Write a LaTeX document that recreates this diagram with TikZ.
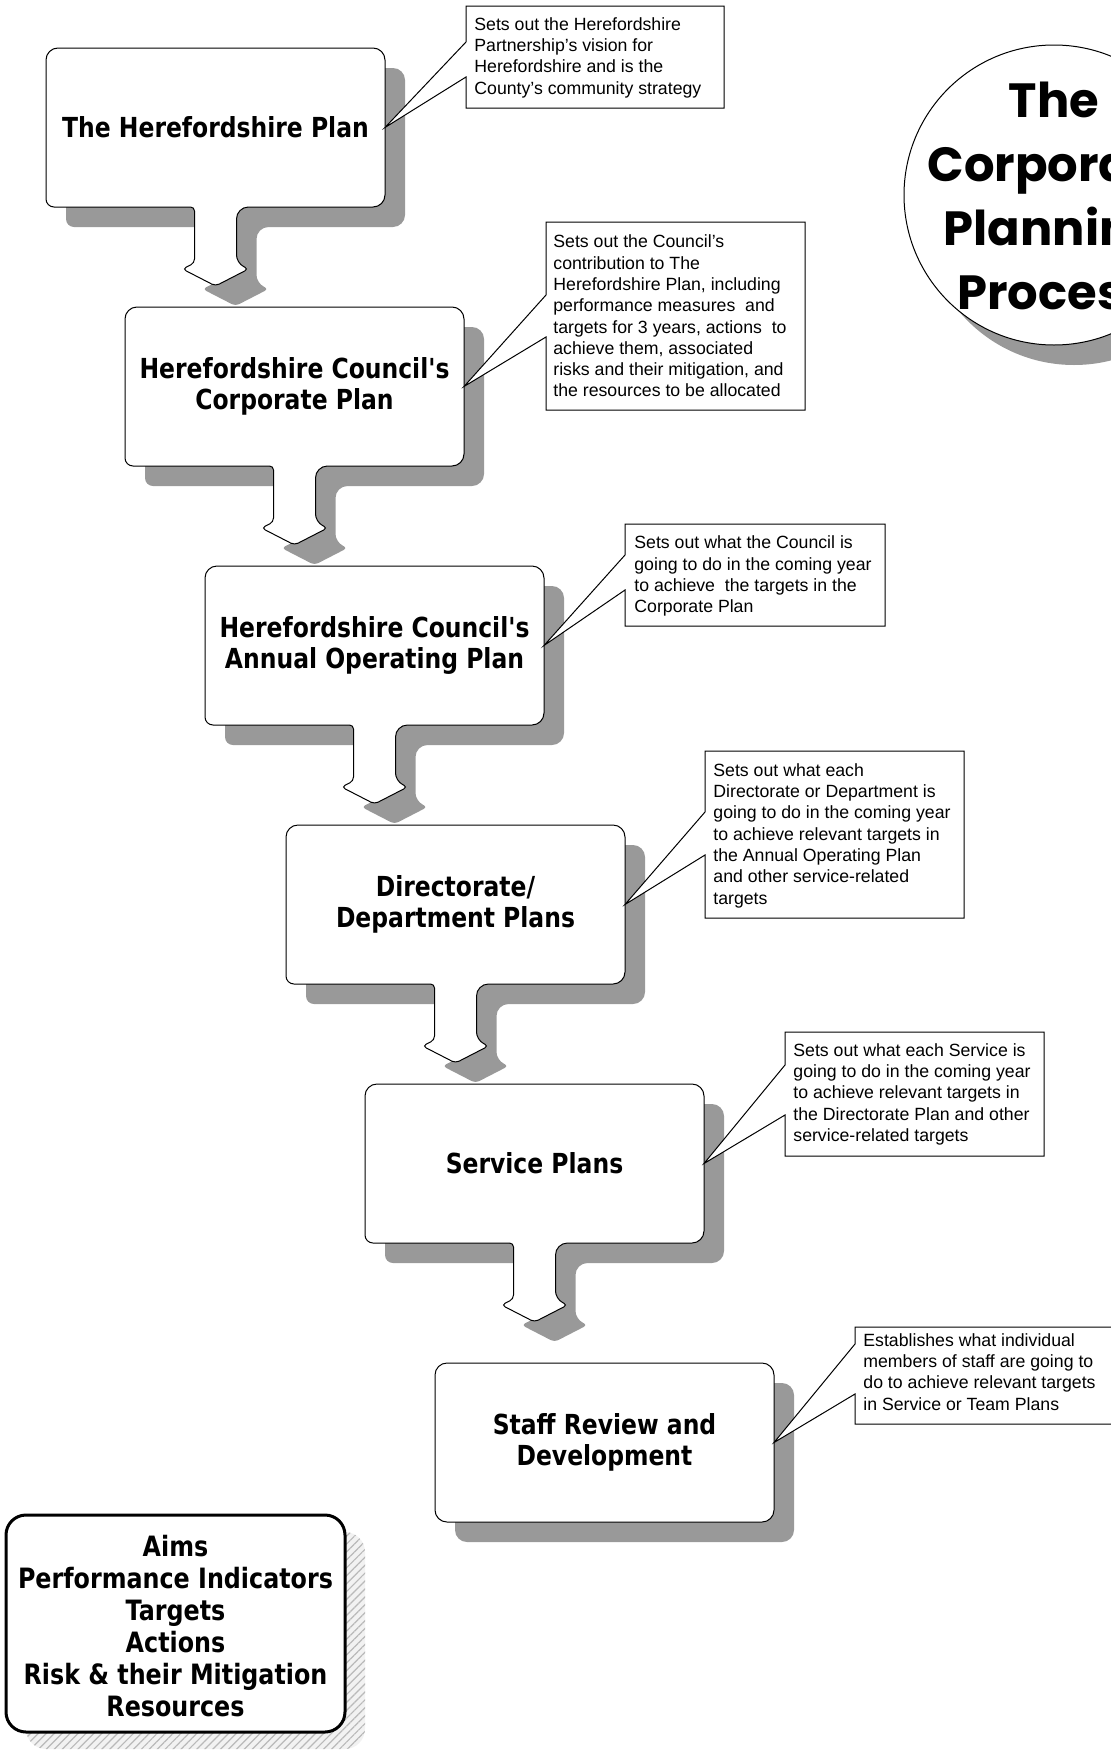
\documentclass[tikz,border=0pt]{standalone}
\usepackage{fontspec}
\setmainfont{Liberation Sans}
\newfontfamily\labelfont[FakeStretch=0.85]{DejaVu Sans}
\newfontfamily\titlefont{Poppins}
\usetikzlibrary{patterns.meta}

\begin{document}
\begin{tikzpicture}[x=0.5pt,y=-0.5pt,
  plan/.style={draw=black,line width=0.5pt,fill=white},
  planshadow/.style={fill=black!40},
  planlabel/.style={font=\labelfont\bfseries\fontsize{13.8}{15.75}\selectfont,align=center},
  note/.style={draw=black,line width=0.5pt,fill=white},
  notetext/.style={font=\fontsize{8.85}{10.65}\selectfont,align=left,anchor=north west,inner sep=0pt}]
  \useasboundingbox (0,0) rectangle (1111,1756);
  \clip (0,0) rectangle (1111,1756);
  % plan boxes with their arrows, shadow first
  \foreach \x/\y/\txt [count=\i] in {46/48/{The Herefordshire Plan},
      125/307/{Herefordshire Council's\\Corporate Plan},
      205/566/{Herefordshire Council's\\Annual Operating Plan},
      286/825/{Directorate/\\Department Plans},
      365/1084/{Service Plans}}{
    \foreach \s/\st in {20/planshadow,0/plan}
      \path[\st,shift={(\s,\s)}] (\x,\y) [rounded corners=6pt] -- ({\x+339},\y) -- ({\x+339},{\y+159})
        -- ({\x+190.5},{\y+159}) [rounded corners=4pt] -- ({\x+190.5},{\y+215}) [rounded corners=2pt]
        -- ({\x+202.5},{\y+221}) -- ({\x+169.5},{\y+238}) -- ({\x+136.5},{\y+221})
        -- ({\x+148.5},{\y+215}) -- ({\x+148.5},{\y+159}) [rounded corners=4pt]
        -- (\x,{\y+159}) [rounded corners=6pt] -- cycle;
    \node[planlabel] (p\i) at ({\x+169.5},{\y+79.5}) {\txt};
    \coordinate (tip\i) at ({\x+339},{\y+79.5});
  }
  \foreach \s/\st in {20/planshadow,0/plan}
    \path[\st,shift={(\s,\s)},rounded corners=6pt] (435,1363) rectangle (774,1522);
  \node[planlabel] (p6) at (604.5,1442.5) {Staff Review and\\Development};
  \coordinate (tip6) at (774,1442.5);

  % callouts
  \draw[note] (tip1) -- (466,42) -- (466,6) -- (724,6) -- (724,108) -- (466,108) -- (466,77) -- cycle;
  \node[notetext] (n1) at (474,15) {\strut Sets out the Herefordshire\\Partnership's vision for\\Herefordshire and is the\\County's community strategy};
  \draw[note] (tip2) -- (546,295) -- (546,222) -- (805,222) -- (805,410) -- (546,410) -- (546,337) -- cycle;
  \node[notetext] (n2) at (553,232.5) {\strut Sets out the Council's\\contribution to The\\Herefordshire Plan, including\\performance measures\ \ and\\targets for 3 years, actions\ \ to\\achieve them, associated\\risks and their mitigation, and\\the resources to be allocated};
  \draw[note] (tip3) -- (625,555) -- (625,524) -- (885,524) -- (885,626) -- (625,626) -- (625,590) -- cycle;
  \node[notetext] (n3) at (634,533.5) {\strut Sets out what the Council is\\going to do in the coming year\\to achieve\ \ the targets in the\\Corporate Plan};
  \draw[note] (tip4) -- (705,812) -- (705,751) -- (964,751) -- (964,918) -- (705,918) -- (705,855) -- cycle;
  \node[notetext] (n4) at (713,761) {\strut Sets out what each\\Directorate or Department is\\going to do in the coming year\\to achieve relevant targets in\\the Annual Operating Plan\\and other service-related\\targets};
  \draw[note] (tip5) -- (785,1065) -- (785,1032) -- (1044,1032) -- (1044,1156) -- (785,1156) -- (785,1115) -- cycle;
  \node[notetext] (n5) at (793,1041) {\strut Sets out what each Service is\\going to do in the coming year\\to achieve relevant targets in\\the Directorate Plan and other\\service-related targets};
  \draw[note] (tip6) -- (855,1344) -- (855,1327) -- (1125,1327) -- (1125,1424) -- (855,1424) -- (855,1394) -- cycle;
  \node[notetext] (n6) at (863,1331) {\strut Establishes what individual\\members of staff are going to\\do to achieve relevant targets\\in Service or Team Plans};

  % title disc
  \fill[planshadow] (1074,215) circle (75pt);
  \draw[plan] (1054,195) circle (75pt);
  \node[font=\titlefont\bfseries\fontsize{24}{32}\selectfont,align=center] (title) at (1054,196) {The\\Corporate\\Planning\\Process};

  % key box
  \fill[gray!10,rounded corners=10pt] (26,1532) rectangle (365,1749);
  \fill[pattern={Lines[angle=45,distance=2.8pt,line width=0.6pt]},pattern color=gray!55,rounded corners=10pt] (26,1532) rectangle (365,1749);
  \draw[line width=1.5pt,fill=white,rounded corners=10pt] (6,1515) rectangle (345,1732);
  \node[align=center,font=\labelfont\bfseries\fontsize{14}{16}\selectfont] (keys) at (175.5,1626) {Aims\\Performance Indicators\\Targets\\Actions\\Risk \& their Mitigation\\Resources};
\end{tikzpicture}
\end{document}
